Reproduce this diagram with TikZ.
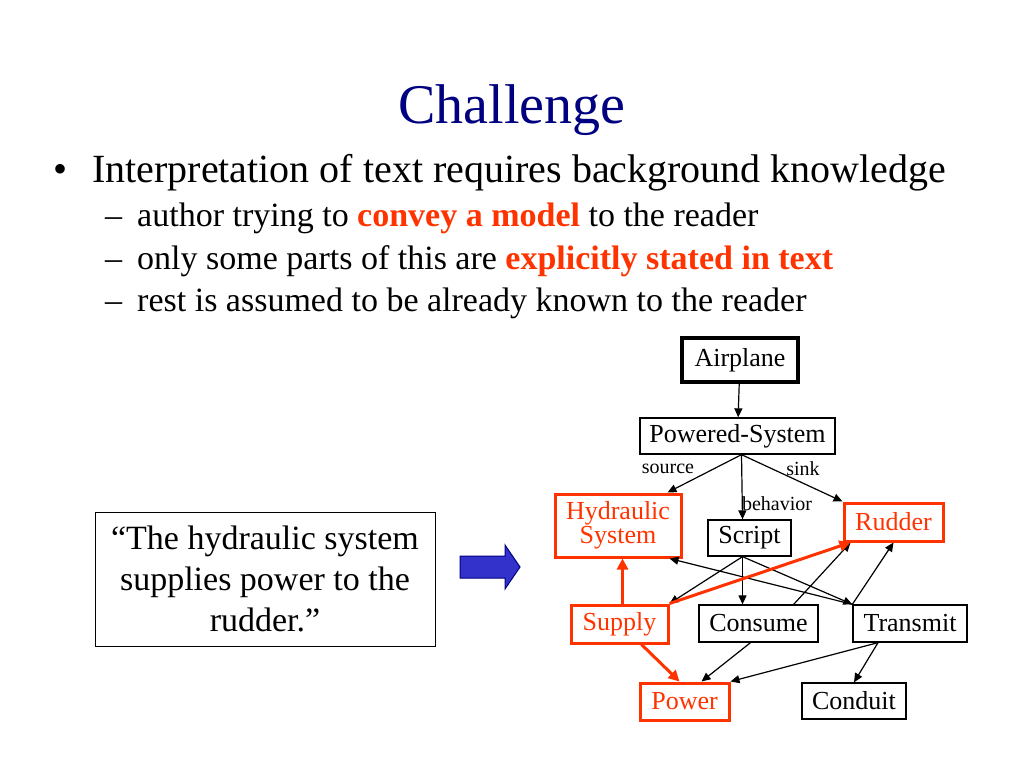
\documentclass[tikz,border=0pt]{standalone}
\usepackage{fontspec}
\setmainfont{Liberation Serif}
\usepackage{xcolor}
\usetikzlibrary{arrows.meta}
\usetikzlibrary{positioning}
\usetikzlibrary{calc}
\definecolor{navy}{RGB}{0,0,128}
\definecolor{hot}{RGB}{255,51,0}
\definecolor{arrowblue}{RGB}{51,51,204}

\begin{document}
\begin{tikzpicture}[x=1pt,y=-1pt,
    plainbox/.style={draw=black,line width=1.3pt,inner sep=0pt,font=\fontsize{26}{24}\selectfont},
    redbox/.style={draw=hot,text=hot,line width=3pt,inner sep=0pt,font=\fontsize{26}{24}\selectfont},
    link/.style={line width=1.2pt,-{Triangle[length=9pt,width=8pt]}},
    redlink/.style={draw=hot,line width=3pt,-{Triangle[length=11pt,width=11pt]}},
    lbl/.style={inner sep=0pt,font=\fontsize{20}{20}\selectfont}]
    \useasboundingbox (0,0) rectangle (1024,768);

    \node[text=navy,font=\fontsize{56}{60}\selectfont] (title) at (512,110) {Challenge};
    \node[anchor=base west,inner sep=0pt,font=\fontsize{40}{40}\selectfont] (dot) at (53,182) {•};
    \node[anchor=base west,inner sep=0pt,font=\fontsize{40}{40}\selectfont] (main) at (92,182) {Interpretation of text requires background knowledge};
    \node[anchor=base west,inner sep=0pt,font=\fontsize{34}{34}\selectfont] (d1) at (105,226) {–};
    \node[anchor=base west,inner sep=0pt,font=\fontsize{34}{34}\selectfont] (s1) at (137,226) {author trying to \textcolor{hot}{\textbf{convey a model}} to the reader};
    \node[anchor=base west,inner sep=0pt,font=\fontsize{34}{34}\selectfont] (d2) at (105,269) {–};
    \node[anchor=base west,inner sep=0pt,font=\fontsize{34}{34}\selectfont] (s2) at (137,269) {only some parts of this are \textcolor{hot}{\textbf{explicitly stated in text}}};
    \node[anchor=base west,inner sep=0pt,font=\fontsize{34}{34}\selectfont] (d3) at (105,311) {–};
    \node[anchor=base west,inner sep=0pt,font=\fontsize{34}{34}\selectfont] (s3) at (137,311) {rest is assumed to be already known to the reader};

    \node[draw,line width=1pt,minimum width=340,minimum height=134,align=center,font=\fontsize{34}{41}\selectfont] (quote) at (265,579) {“The hydraulic system\\supplies power to the\\rudder.”};
    \draw[fill=arrowblue,draw=navy,line width=1pt] (460,556) -- (505,556) -- (505,545) -- (520,567) -- (505,589) -- (505,578) -- (460,578) -- cycle;

    \node[plainbox,line width=3.5pt,minimum width=116,minimum height=44] (airplane) at (740,360) {Airplane};
    \node[plainbox,minimum width=195,minimum height=36] (powered) at (737.5,436) {Powered-System};
    \node[redbox,minimum width=126,minimum height=63,align=center] (hydraulic) at (618,525.5) {Hydraulic\\System};
    \node[plainbox,minimum width=83,minimum height=36] (script) at (749.5,538) {Script};
    \node[redbox,minimum width=99,minimum height=38] (rudder) at (893.5,522) {Rudder};
    \node[redbox,minimum width=97,minimum height=38] (supply) at (619.5,624) {Supply};
    \node[plainbox,minimum width=119,minimum height=37] (consume) at (758.5,623.5) {Consume};
    \node[plainbox,minimum width=114,minimum height=37] (transmit) at (910,623.5) {Transmit};
    \node[redbox,minimum width=89,minimum height=37] (power) at (684.5,701.5) {Power};
    \node[plainbox,minimum width=104,minimum height=36] (conduit) at (854,701) {Conduit};

    \node[lbl] (source) at (668,469) {source};
    \node[lbl] (sink) at (803,469) {sink};
    \node[lbl] (behavior) at (777,504) {behavior};

    \coordinate (pb) at ([xshift=4pt]powered.south);
    \coordinate (sb) at ([xshift=-7pt]script.south);
    \coordinate (tb) at ([xshift=-32pt]transmit.south);

    \draw[link] (airplane) -- (powered);
    \draw[link] (pb) -- ([xshift=-15pt]hydraulic.north east);
    \draw[link] (pb) -- ([xshift=-7pt]script.north);
    \draw[link] (pb) -- (rudder.north west);
    \draw[link] (sb) -- (supply.north east);
    \draw[link] (sb) -- ([xshift=-16pt]consume.north);
    \draw[link] (sb) -- (transmit.north west);
    \draw[link] (transmit.north west) -- ([xshift=-13pt]hydraulic.south east);
    \draw[link] ([xshift=-25pt]consume.north east) -- ([xshift=8pt]rudder.south west);
    \draw[link] (transmit.north west) -- (rudder.south);
    \draw[link] ([xshift=-8pt]consume.south) -- ([xshift=17pt]power.north);
    \draw[link] (tb) -- (power.north east);
    \draw[link] (tb) -- (conduit.north);
    \draw[redlink] (supply.north east) -- ([xshift=8pt]rudder.south west);
    \draw[redlink] ([xshift=3pt]supply.north) -- ([xshift=3pt]supply.north |- hydraulic.south);
    \draw[redlink] ([xshift=22pt]supply.south) -- ([xshift=-5pt]power.north);
\end{tikzpicture}
\end{document}
